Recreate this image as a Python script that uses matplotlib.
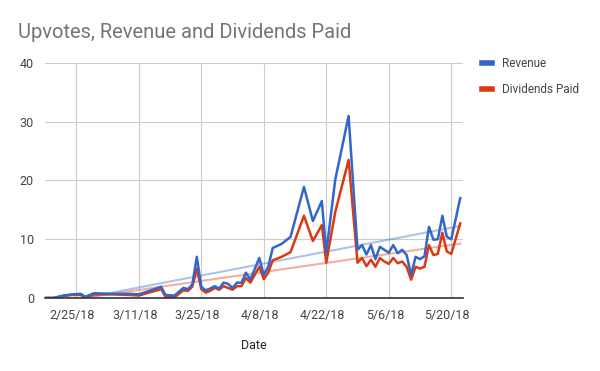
import numpy as np
import pandas as pd
import matplotlib
matplotlib.use("Agg")
import matplotlib.pyplot as plt
import matplotlib.dates as mdates
import matplotlib.transforms as mtransforms

# ---------- data ----------
dates = ["2018-02-18", "2018-02-20", "2018-02-22", "2018-02-24", "2018-02-26", "2018-02-27",
         "2018-03-01", "2018-03-05", "2018-03-09", "2018-03-11", "2018-03-16", "2018-03-17",
         "2018-03-19", "2018-03-21", "2018-03-22", "2018-03-23", "2018-03-24", "2018-03-25",
         "2018-03-26", "2018-03-27", "2018-03-28", "2018-03-29", "2018-03-30", "2018-03-31",
         "2018-04-01", "2018-04-02", "2018-04-03", "2018-04-04", "2018-04-05", "2018-04-07",
         "2018-04-08", "2018-04-09", "2018-04-10", "2018-04-12", "2018-04-14", "2018-04-17",
         "2018-04-19", "2018-04-21", "2018-04-22", "2018-04-24", "2018-04-27", "2018-04-29",
         "2018-04-30", "2018-05-01", "2018-05-02", "2018-05-03", "2018-05-04", "2018-05-05",
         "2018-05-06", "2018-05-07", "2018-05-08", "2018-05-09", "2018-05-10", "2018-05-11",
         "2018-05-12", "2018-05-13", "2018-05-14", "2018-05-15", "2018-05-16", "2018-05-17",
         "2018-05-18", "2018-05-19", "2018-05-20", "2018-05-22"]
revenue = [0.0, 0.0, 0.4, 0.6, 0.7, 0.2,
           0.8, 0.7, 0.7, 0.6, 1.9, 0.5,
           0.4, 1.7, 1.5, 2.3, 7.0, 1.9,
           1.3, 1.6, 2.0, 1.6, 2.6, 2.4,
           1.7, 2.6, 2.6, 4.3, 3.1, 6.8,
           3.9, 5.3, 8.5, 9.2, 10.4, 18.9,
           13.1, 16.5, 7.7, 20.1, 31.0, 8.2,
           9.0, 7.4, 9.0, 6.6, 8.7, 8.2,
           7.7, 9.0, 7.6, 8.2, 7.3, 3.9,
           7.0, 6.6, 7.1, 12.1, 9.9, 10.0,
           14.0, 10.4, 10.0, 17.0]
dividends = [0.0, 0.0, 0.3, 0.5, 0.5, 0.1,
             0.6, 0.6, 0.5, 0.4, 1.5, 0.2,
             0.1, 1.3, 1.2, 1.9, 5.0, 1.5,
             0.9, 1.2, 1.7, 1.4, 2.0, 1.7,
             1.4, 2.0, 2.0, 3.4, 2.6, 5.3,
             3.2, 4.3, 6.4, 7.0, 7.8, 14.0,
             9.7, 12.4, 6.0, 14.6, 23.5, 6.0,
             6.8, 5.4, 6.5, 5.3, 6.8, 6.2,
             5.8, 6.8, 5.9, 6.2, 5.3, 3.1,
             5.3, 5.0, 5.3, 9.0, 7.3, 7.5,
             11.1, 7.9, 7.5, 12.7]
tick_dates = ["2018-02-25", "2018-03-11", "2018-03-25", "2018-04-08",
              "2018-04-22", "2018-05-06", "2018-05-20"]
tick_labels = ["2/25/18", "3/11/18", "3/25/18", "4/8/18", "4/22/18", "5/6/18", "5/20/18"]
y_ticks = [0, 10, 20, 30, 40]

BLUE = "#3366cc"
RED = "#dc3912"
TEXT = "#444444"

plt.rcParams["font.family"] = ["Roboto", "DejaVu Sans"]

x = pd.to_datetime(dates)
xn = mdates.date2num(x)

fig = plt.figure(figsize=(6, 3.71), dpi=100)
ax = fig.add_axes([0.075, 0.197, 0.697, 0.633])

# trendlines (linear fit, like the sheets chart)
for vals, col in [(revenue, BLUE), (dividends, RED)]:
    k, b = np.polyfit(xn, vals, 1)
    tx = np.array([xn[0], xn[-1]])
    ax.plot(mdates.num2date(tx), k * tx + b, color=col, alpha=0.4, lw=1.5, zorder=2)

ax.plot(x, revenue, color=BLUE, lw=1.8, label="Revenue", zorder=4)
ax.plot(x, dividends, color=RED, lw=1.8, label="Dividends Paid", zorder=3)

ax.set_ylim(0, 40)
ax.set_xlim(pd.Timestamp("2018-02-18"), pd.Timestamp("2018-05-22 16:00"))
ax.set_yticks(y_ticks)
ax.set_xticks(pd.to_datetime(tick_dates))
ax.set_xticklabels(tick_labels)
ax.grid(True, color="#cccccc", lw=0.8)
ax.set_axisbelow(True)
for s in ["top", "right", "left"]:
    ax.spines[s].set_visible(False)
ax.spines["bottom"].set_color("#333333")
ax.spines["bottom"].set_linewidth(1.2)
ax.spines["bottom"].set_zorder(5)
ax.tick_params(length=0, labelsize=9, colors=TEXT, pad=8)
shift = mtransforms.ScaledTranslation(-4 / 100, 0, fig.dpi_scale_trans)
for lab in ax.get_xticklabels():
    lab.set_transform(lab.get_transform() + shift)

ax.set_xlabel("Date", fontsize=9, color="#222222", labelpad=12)
fig.text(0.03, 0.913, "Upvotes, Revenue and Dividends Paid", fontsize=14.5,
         color="#757575", ha="left", va="center")

leg = ax.legend(loc="upper left", bbox_to_anchor=(1.02, 1.07), frameon=False,
                fontsize=8.5, handlelength=0.8, handletextpad=0.9, labelspacing=1.1,
                labelcolor=TEXT)
for h in leg.get_lines():
    h.set_linewidth(4)

fig.savefig("out.png", dpi=100)
